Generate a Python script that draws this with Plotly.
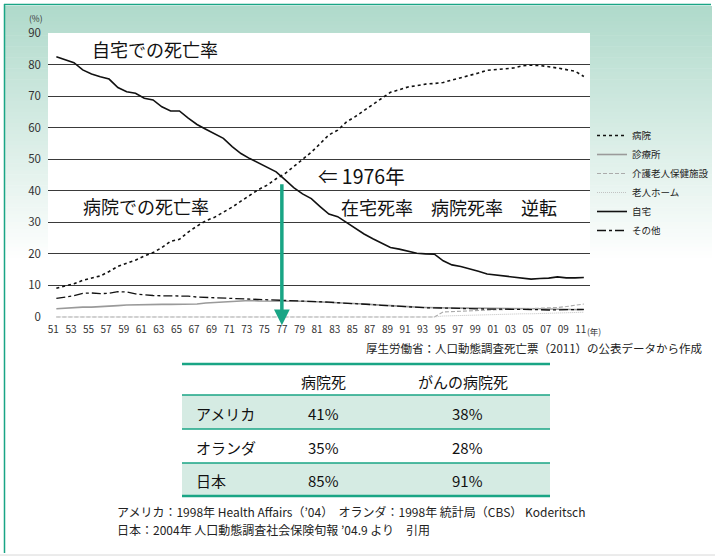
import plotly.graph_objects as go

FONT = "Noto Sans CJK JP"
W, H = 715, 556
# plot area in pixels
PL, PR, PT, PB = 48, 590, 33, 322

# ---- data -------------------------------------------------------------
years = list(range(1951, 2012))

hospital = [9.1, 9.8, 10.5, 11.6, 12.4, 13.0, 14.4, 16.0, 17.0, 18.0,
            19.3, 20.4, 22.0, 24.0, 24.6, 26.9, 28.8, 30.5, 31.6, 33.2,
            34.8, 36.7, 38.6, 40.4, 41.8, 43.8, 45.4, 47.6, 49.8, 52.2,
            54.9, 57.7, 59.2, 61.8, 63.5, 65.4, 67.4, 69.4, 71.2, 72.0,
            72.9, 73.3, 73.8, 74.0, 74.3, 75.1, 75.8, 76.5, 77.3, 78.2,
            78.4, 78.6, 78.9, 79.6, 79.8, 79.7, 79.4, 78.9, 78.4, 77.9, 76.2]

clinic = [2.6, 2.8, 3.0, 3.1, 3.1, 3.2, 3.4, 3.6, 3.8, 3.9,
          4.0, 4.0, 4.0, 4.0, 4.0, 3.9, 4.1, 4.4, 4.6, 4.7,
          4.9, 5.1, 5.2, 5.1, 5.1, 5.1, 5.2, 5.1, 5.0, 4.9,
          4.8, 4.7, 4.6, 4.5, 4.3, 4.1, 3.9, 3.7, 3.5, 3.4,
          3.2, 3.1, 3.0, 2.9, 3.0, 2.9, 2.8, 2.8, 2.8, 2.8,
          2.7, 2.7, 2.7, 2.6, 2.6, 2.6, 2.5, 2.5, 2.4, 2.4, 2.3]

care_facility = [0.0] * 44 + [1.6, 1.7, 1.8, 1.9, 2.0, 2.1, 2.1, 2.2, 2.3,
                              2.4, 2.5, 2.6, 2.8, 3.0, 3.3, 3.6, 4.1]

nursing_home = [0.0] * 44 + [0.3, 0.4, 0.5, 0.5, 0.6, 0.7, 0.7, 0.8, 0.9,
                             1.0, 1.0, 1.1, 1.2, 1.2, 1.3, 1.4, 1.5]

home = [82.5, 81.5, 80.6, 78.3, 77.0, 76.1, 75.4, 72.7, 71.4, 70.9,
        69.3, 68.8, 66.6, 65.3, 65.3, 63.0, 61.0, 59.5, 58.0, 56.6,
        54.0, 51.8, 50.2, 48.8, 47.4, 46.0, 43.5, 41.0, 39.0, 37.5,
        35.0, 32.6, 31.8, 30.0, 28.0, 26.3, 24.8, 23.5, 22.0, 21.5,
        20.8, 20.2, 20.0, 19.9, 17.8, 16.5, 16.0, 15.3, 14.5, 13.6,
        13.3, 13.1, 12.8, 12.4, 12.0, 12.2, 12.3, 12.7, 12.4, 12.4, 12.5]

other = [5.9, 6.3, 6.7, 7.5, 7.6, 7.4, 7.5, 8.0, 7.9, 7.3,
         7.0, 6.8, 6.7, 6.7, 6.5, 6.6, 6.3, 6.2, 6.1, 6.0,
         6.0, 5.8, 5.7, 5.6, 5.6, 5.4, 5.2, 5.1, 5.0, 4.9,
         4.8, 4.7, 4.5, 4.4, 4.2, 4.0, 3.9, 3.7, 3.5, 3.4,
         3.2, 3.0, 2.9, 2.9, 2.8, 2.8, 2.7, 2.7, 2.6, 2.5,
         2.5, 2.5, 2.4, 2.4, 2.3, 2.3, 2.2, 2.2, 2.3, 2.3, 2.4]

x_tick_years = [1951, 1953, 1955, 1957, 1959, 1961, 1963, 1965, 1967, 1969,
                1971, 1973, 1975, 1977, 1979, 1981, 1983, 1985, 1987, 1989,
                1991, 1993, 1995, 1997, 1999, 2001, 2003, 2005, 2007, 2009, 2011]
x_tick_text = ["51", "53", "55", "57", "59", "61", "63", "65", "67", "69",
               "71", "73", "75", "77", "79", "81", "83", "85", "87", "89",
               "91", "93", "95", "97", "99", "01", "03", "05", "07", "09", "11"]
y_ticks = [0, 10, 20, 30, 40, 50, 60, 70, 80, 90]

# year where the home and hospital curves cross, and the arrow's span
crossover_year = 1976.65
arrow_top, arrow_tip = 42.5, -2.6

table_headers = ["病院死", "がんの病院死"]
table_countries = ["アメリカ", "オランダ", "日本"]
hospital_death = ["41%", "35%", "85%"]
cancer_hospital_death = ["38%", "28%", "91%"]

# ---- helpers ----------------------------------------------------------
def xp(px):
    return (px - PL) / (PR - PL)


def yp(py):
    return (PB - py) / (PB - PT)


TEAL = "#19a585"
ROW_FILL = "#d5ebe3"

fig = go.Figure()

series = [
    ("病院", hospital, dict(color="#111", width=1.6, dash="3px,3px")),
    ("診療所", clinic, dict(color="#9a9a9a", width=1.6)),
    ("介護老人保健施設", care_facility, dict(color="#ababab", width=1.1, dash="4px,2px")),
    ("老人ホーム", nursing_home, dict(color="#c2c2c2", width=1.0, dash="1px,1px")),
    ("自宅", home, dict(color="#111", width=1.6)),
    ("その他", other, dict(color="#111", width=1.3, dash="9px,3px,3px,3px")),
]
for name, vals, line in series:
    fig.add_trace(go.Scatter(x=years, y=vals, mode="lines", name=name,
                             line=line, hoverinfo="skip"))

shapes = []
# background gradient: green at the top fading to white
N = 70
g_top, g_bot = 6, 262
c0 = (176, 218, 203)
for i in range(N):
    t = i / (N - 1)
    r = round(c0[0] + (255 - c0[0]) * t)
    g = round(c0[1] + (255 - c0[1]) * t)
    b = round(c0[2] + (255 - c0[2]) * t)
    y0 = g_top + (g_bot - g_top) * i / N
    y1 = g_top + (g_bot - g_top) * (i + 1) / N + 0.6
    shapes.append(dict(type="rect", xref="paper", yref="paper", layer="below",
                       x0=xp(5), x1=xp(712), y0=yp(y0), y1=yp(y1),
                       line=dict(width=0), fillcolor=f"rgb({r},{g},{b})"))
# white plotting area
shapes.append(dict(type="rect", xref="paper", yref="paper", layer="below",
                   x0=0, x1=1, y0=0, y1=1, line=dict(width=0), fillcolor="white"))
# frame
shapes.append(dict(type="line", xref="paper", yref="paper", x0=xp(4), x1=xp(711),
                   y0=yp(4.5), y1=yp(4.5), line=dict(color=TEAL, width=1.5)))
shapes.append(dict(type="line", xref="paper", yref="paper", x0=xp(4.5), x1=xp(4.5),
                   y0=yp(4), y1=yp(553), line=dict(color=TEAL, width=1.5)))
shapes.append(dict(type="line", xref="paper", yref="paper", x0=xp(0), x1=xp(715),
                   y0=yp(555), y1=yp(555), line=dict(color="#d8d8d8", width=1)))

# table
TL, TR = 182, 550
row_edges = [364, 395, 429, 463, 496]
for i, fill in enumerate([None, ROW_FILL, None, ROW_FILL]):
    if fill:
        shapes.append(dict(type="rect", xref="paper", yref="paper", layer="below",
                           x0=xp(TL), x1=xp(TR), y0=yp(row_edges[i]), y1=yp(row_edges[i + 1]),
                           line=dict(width=0), fillcolor=fill))
for j, ye in enumerate(row_edges):
    w = 2.5 if j in (0, len(row_edges) - 1) else 1.5
    shapes.append(dict(type="line", xref="paper", yref="paper",
                       x0=xp(TL), x1=xp(TR), y0=yp(ye), y1=yp(ye),
                       line=dict(color=TEAL, width=w)))

annotations = []


def text(s, x, y, size, anchor="left", color="#111"):
    annotations.append(dict(text=s, x=xp(x), y=yp(y), xref="paper", yref="paper",
                            xanchor=anchor, yanchor="middle", showarrow=False,
                            font=dict(family=FONT, size=size, color=color)))


text("(%)", 27, 18, 8.5, color="#333")
text("(年)", 585, 331, 8.5, color="#333")
text("自宅での死亡率", 90, 49, 18)
text("病院での死亡率", 81, 206, 18)
text("⇐ 1976年", 316, 175, 19.5)
text("在宅死率　病院死率　逆転", 339, 207, 18)
text("厚生労働省：人口動態調査死亡票（2011）の公表データから作成", 705, 348, 11.5,
     anchor="right", color="#222")

col_x = [323, 463]
for hdr, cx in zip(table_headers, col_x):
    text(hdr, cx, 381, 15, anchor="center")
row_y = [413, 447, 480]
for name, a, b, ry in zip(table_countries, hospital_death, cancer_hospital_death, row_y):
    text(name, 194, ry, 15)
    text(a, col_x[0], ry, 15, anchor="center")
    text(b, col_x[1] + 4, ry, 15, anchor="center")

text("アメリカ：1998年 Health Affairs（’04）  オランダ：1998年 統計局（CBS） Koderitsch",
     115, 512, 12, color="#222")
text("日本：2004年 人口動態調査社会保険旬報 ’04.9 より　引用", 115, 529, 12, color="#222")

# arrow marking the crossover of home and hospital deaths
annotations.append(dict(x=crossover_year, y=arrow_tip, xref="x", yref="y",
                        ax=crossover_year, ay=arrow_top, axref="x", ayref="y",
                        showarrow=True, arrowhead=2, arrowsize=0.9, arrowwidth=3.5,
                        arrowcolor=TEAL, text=""))

fig.update_layout(
    width=W, height=H, autosize=False,
    margin=dict(l=PL, r=W - PR, t=PT, b=H - PB, pad=0, autoexpand=False),
    paper_bgcolor="white", plot_bgcolor="rgba(0,0,0,0)",
    font=dict(family=FONT, color="#333"),
    showlegend=True,
    legend=dict(x=xp(592), y=yp(121), xanchor="left", yanchor="top",
                bgcolor="rgba(0,0,0,0)", itemwidth=30, tracegroupgap=0,
                font=dict(family=FONT, size=9.5, color="#222")),
    shapes=shapes, annotations=annotations,
)
fig.update_xaxes(range=[1950.05, 2011.7], tickvals=x_tick_years, ticktext=x_tick_text,
                 showgrid=False, zeroline=False, showline=False, ticks="",
                 ticklabelshift=-3,
                 tickfont=dict(family=FONT, size=10, color="#333"), fixedrange=True)
fig.update_yaxes(range=[-1.6, 90], tickvals=y_ticks, showgrid=True,
                 gridcolor="#3a3a3a", gridwidth=1.2,
                 zeroline=True, zerolinecolor="rgba(0,0,0,0)", showline=False, ticks="",
                 ticklabelstandoff=6,
                 tickfont=dict(family=FONT, size=11.5, color="#333"), fixedrange=True)

fig.write_html("out.html", config={"responsive": False})
